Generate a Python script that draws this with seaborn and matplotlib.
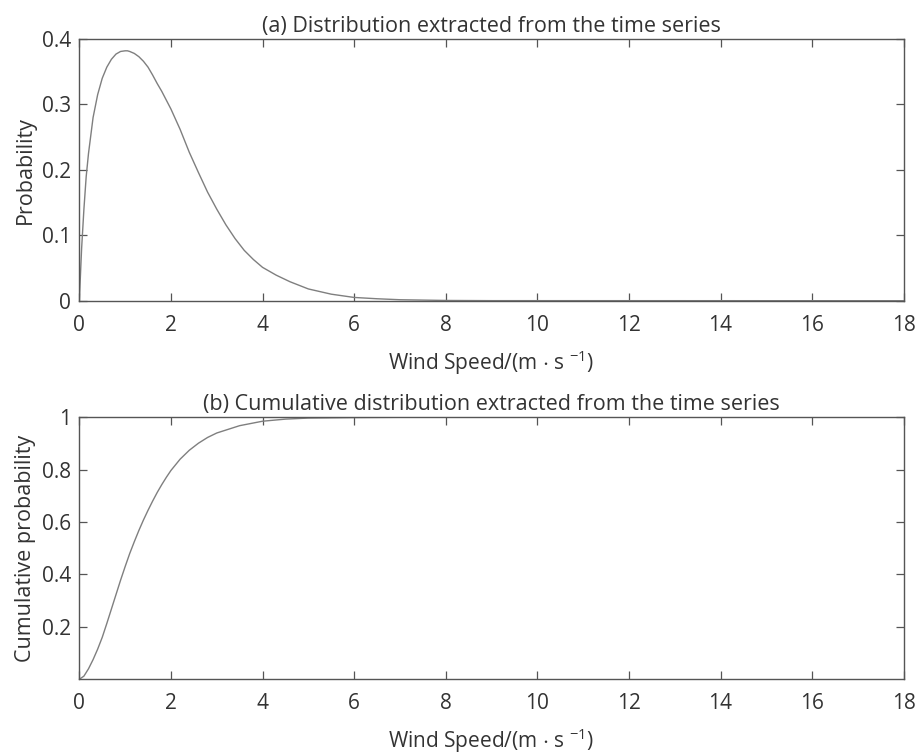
import matplotlib
matplotlib.use("Agg")
import matplotlib.pyplot as plt
import seaborn as sns
import pandas as pd

# ---- data ----
pdf_speed = [0, 0.05, 0.1, 0.15, 0.2, 0.3, 0.4, 0.5, 0.6, 0.7, 0.8, 0.9, 1.0, 1.05,
             1.1, 1.2, 1.3, 1.4, 1.5, 1.6, 1.7, 1.8, 2.0, 2.2, 2.4, 2.6, 2.8, 3.0,
             3.2, 3.4, 3.6, 3.8, 4.0, 4.3, 4.6, 5.0, 5.5, 6.0, 6.5, 7.0, 8.0, 9.0, 18.0]
pdf_prob = [0, 0.08, 0.14, 0.19, 0.225, 0.28, 0.315, 0.34, 0.357, 0.369, 0.377, 0.381,
            0.382, 0.382, 0.381, 0.378, 0.373, 0.366, 0.357, 0.345, 0.332, 0.32, 0.293,
            0.262, 0.227, 0.196, 0.166, 0.140, 0.116, 0.095, 0.077, 0.063, 0.051,
            0.039, 0.029, 0.018, 0.010, 0.005, 0.003, 0.0015, 0.0004, 0.0001, 0.0]

cdf_speed = [0, 0.1, 0.2, 0.3, 0.4, 0.5, 0.6, 0.7, 0.8, 0.9, 1.0, 1.1, 1.2, 1.3, 1.4,
             1.5, 1.6, 1.7, 1.8, 1.9, 2.0, 2.2, 2.4, 2.6, 2.8, 3.0, 3.5, 4.0, 4.5,
             5.0, 6.0, 7.0, 18.0]
cdf_prob = [0, 0.012, 0.04, 0.075, 0.115, 0.16, 0.213, 0.268, 0.323, 0.378, 0.43,
            0.48, 0.525, 0.568, 0.608, 0.645, 0.68, 0.713, 0.743, 0.771, 0.797, 0.84,
            0.874, 0.901, 0.923, 0.94, 0.968, 0.985, 0.993, 0.997, 0.999, 1.0, 1.0]

x_ticks = [0, 2, 4, 6, 8, 10, 12, 14, 16, 18]
pdf_yticks = [0, 0.1, 0.2, 0.3, 0.4]
pdf_yticklabels = ["0", "0.1", "0.2", "0.3", "0.4"]
cdf_yticks = [0.2, 0.4, 0.6, 0.8, 1.0]
cdf_yticklabels = ["0.2", "0.4", "0.6", "0.8", "1"]

title_a = "(a) Distribution extracted from the time series"
title_b = "(b) Cumulative distribution extracted from the time series"
xlabel = r"Wind Speed/(m $\cdot$ s $^{\mathregular{-1}}$)"

# ---- style ----
sns.set_style("ticks")
plt.rcParams["font.family"] = ["Open Sans", "DejaVu Sans"]
plt.rcParams["mathtext.fontset"] = "custom"
plt.rcParams["mathtext.rm"] = "Open Sans"
plt.rcParams["mathtext.it"] = "Open Sans"
plt.rcParams["mathtext.default"] = "regular"
txt = "#333333"
edge = "#555555"

fig = plt.figure(figsize=(9.15, 7.55), dpi=100)
ax1 = fig.add_axes([0.0867, 0.6017, 0.9010, 0.3466])
ax2 = fig.add_axes([0.0867, 0.1003, 0.9010, 0.3470])

df_pdf = pd.DataFrame({"speed": pdf_speed, "prob": pdf_prob})
df_cdf = pd.DataFrame({"speed": cdf_speed, "prob": cdf_prob})

sns.lineplot(data=df_pdf, x="speed", y="prob", ax=ax1, color="#7f7f7f", linewidth=1.0)
sns.lineplot(data=df_cdf, x="speed", y="prob", ax=ax2, color="#7f7f7f", linewidth=1.0)

for ax in (ax1, ax2):
    ax.set_xlim(0, 18)
    ax.set_xticks(x_ticks)
    ax.set_xticklabels([str(t) for t in x_ticks])
    ax.tick_params(direction="in", length=6, width=0.9, top=True, right=True,
                   labelsize=15, colors=edge, labelcolor=txt)
    ax.tick_params(axis="x", pad=10)
    ax.tick_params(axis="y", pad=6)
    for s in ax.spines.values():
        s.set_color(edge)
        s.set_linewidth(1.0)
    ax.set_xlabel(xlabel, fontsize=15, color=txt, labelpad=9)

ax1.set_ylim(0, 0.4)
ax1.set_yticks(pdf_yticks)
ax1.set_yticklabels(pdf_yticklabels)
ax1.set_ylabel("Probability", fontsize=15.5, color=txt, labelpad=4)
ax1.set_title(title_a, fontsize=15.5, color=txt, pad=5)

ax2.set_ylim(0, 1)
ax2.set_yticks(cdf_yticks)
ax2.set_yticklabels(cdf_yticklabels)
ax2.set_ylabel("Cumulative probability", fontsize=15.5, color=txt, labelpad=4)
ax2.set_title(title_b, fontsize=15.5, color=txt, pad=5)

fig.savefig("out.png", dpi=100, facecolor="white")
